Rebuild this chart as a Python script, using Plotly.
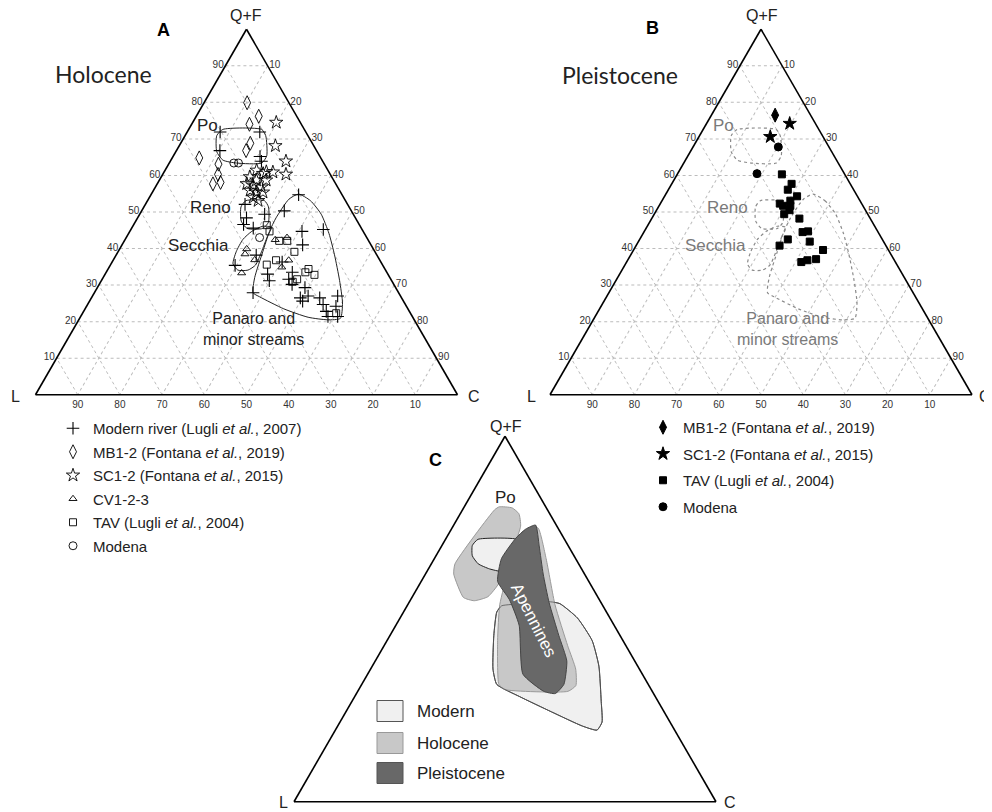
import plotly.graph_objects as go

# The page body adds an 8 px margin, so the figure is sized to fit and all
# reference pixel positions are shifted by that margin.
OFF = 8
W, H = 984, 804
FONT = "Liberation Sans, Arial, sans-serif"

# ---------------- Panel A: Holocene (values in %, Q+F and C; L = 100 - Q+F - C)
modern_qf = [71.9, 71.9, 66.8, 65.2, 63.9, 52.1, 49.4, 48.4, 46.6, 45.6, 54.7, 50.3, 45.2, 44.7, 41.0,
             35.4, 38.2, 36.3, 33.5, 31.2, 33.0, 29.3, 30.2, 26.5, 25.6, 27.0, 26.5, 24.7, 22.8, 21.4,
             27.0, 24.2, 21.4, 27.9, 31.6]
modern_c = [7.8, 17.2, 10.3, 20.6, 21.6, 23.6, 29.6, 25.8, 26.0, 28.8, 35.0, 33.8, 45.6, 40.8, 42.8,
            29.6, 33.2, 40.3, 44.1, 39.8, 38.5, 49.2, 45.7, 49.5, 50.5, 51.1, 54.1, 55.8, 57.5, 58.6,
            58.1, 59.1, 60.9, 37.6, 44.2]
mb_qf = [79.9, 76.2, 74.0, 68.8, 66.8, 64.8, 63.1, 60.3, 57.7, 58.1]
mb_c = [10.2, 14.8, 13.7, 16.5, 16.5, 6.4, 11.8, 13.1, 13.2, 14.8]
sc_qf = [74.5, 68.1, 63.9, 60.3, 60.9, 61.4, 60.5, 59.6, 58.7, 58.7, 57.7, 57.3, 56.8, 55.9, 55.4,
         55.4, 54.0, 53.1, 61.0]
sc_c = [19.8, 22.8, 27.4, 29.2, 25.8, 21.7, 23.7, 21.0, 23.0, 25.3, 21.2, 22.9, 25.1, 22.9, 24.7,
        26.2, 24.6, 26.2, 24.2]
cv_qf = [33.3, 38.5, 36.9, 34.9, 42.4, 36.8, 39.9, 43.0]
cv_c = [32.2, 30.4, 33.5, 40.9, 35.6, 41.6, 30.1, 38.1]
tav_qf = [46.4, 42.1, 42.1, 39.1, 35.6, 36.8, 33.5, 32.8, 31.6, 30.9, 22.3, 34.4, 44.7]
tav_c = [31.6, 36.7, 38.6, 41.8, 37.0, 38.6, 47.2, 49.7, 46.2, 45.5, 60.1, 47.5, 33.1]
mod_qf = [63.4, 63.4, 43.0]
mod_c = [15.3, 16.4, 31.6]

# ---------------- Panel B: Pleistocene
b_mb_qf = [76.5]
b_mb_c = [15.1]
b_sc_qf = [74.2, 70.6]
b_sc_c = [19.7, 16.9]
b_mod_qf = [67.8, 60.5]
b_mod_c = [20.2, 18.8]
b_tav_qf = [60.3, 57.7, 56.1, 54.3, 53.1, 52.3, 51.7, 51.7, 50.5, 49.4, 48.2, 44.5, 44.7, 42.5, 41.9,
            40.8, 39.6, 37.1, 36.8, 36.3]
b_tav_c = [24.8, 28.4, 28.3, 31.4, 30.4, 28.3, 29.4, 31.1, 31.5, 30.8, 35.0, 37.6, 38.8, 35.1, 40.6,
           34.0, 44.9, 44.5, 42.6, 41.4]

# ---------------- Provenance envelopes (A solid, B dotted)
env_po_qf = [72.6, 72.6, 70.9, 65.4, 63.4, 63.4, 64.2, 66.5, 70.9, 72.6]
env_po_c = [8.1, 17.3, 19.1, 22.1, 21.9, 15.9, 12.3, 9.7, 7.5, 8.1]
env_reno_qf = [53.1, 53.1, 51.4, 47.2, 45.5, 45.5, 47.5, 51.4, 53.1]
env_reno_c = [23.3, 27.7, 29.5, 31.6, 31.1, 27.4, 25.0, 23.0, 23.3]
env_sec_qf = [45.8, 43.3, 39.1, 35.5, 34.1, 34.1, 35.8, 39.1, 42.5, 44.7, 46.1, 45.8]
env_sec_c = [33.0, 33.3, 34.0, 34.4, 33.3, 30.9, 28.9, 28.0, 27.9, 28.9, 30.8, 33.0]
env_pan_qf = [54.9, 53.1, 49.4, 44.1, 38.3, 31.3, 25.1, 20.9, 20.5, 21.2, 23.5, 26.8, 27.9, 32.1,
              39.1, 44.7, 48.4, 53.5, 54.9]
env_pan_c = [34.9, 38.6, 43.0, 47.5, 51.7, 56.4, 60.2, 61.8, 59.0, 54.0, 47.1, 39.7, 37.6, 35.9,
             34.3, 33.1, 32.8, 33.3, 34.9]

# ---------------- Panel C: summary fields
c_modap_qf = [53.6, 54.2, 54.7, 54.2, 50.3, 44.1, 37.1, 27.4, 21.8, 19.6, 20.7, 24.6, 28.8, 32.1,
              36.3, 45.5, 51.9, 53.6]
c_modap_c = [22.4, 27.4, 33.4, 35.9, 42.0, 48.6, 53.7, 59.1, 62.1, 62.0, 58.0, 48.7, 39.0, 32.0,
             29.0, 24.6, 22.1, 22.4]
c_holopo_qf = [80.7, 80.4, 78.8, 75.4, 60.0, 56.1, 55.0, 55.9, 62.3, 65.1, 79.9, 80.7]
c_holopo_c = [8.3, 11.5, 13.9, 16.0, 18.7, 17.9, 15.2, 12.2, 6.7, 5.6, 7.6, 8.3]
c_holoap_qf = [74.9, 74.9, 66.5, 53.9, 42.7, 36.3, 31.8, 30.2, 30.7, 32.1, 44.1, 53.9, 63.7, 72.1, 74.9]
c_holoap_c = [18.8, 20.4, 26.5, 34.9, 43.5, 48.6, 50.9, 49.8, 34.6, 32.5, 26.2, 21.8, 19.1, 18.4, 18.8]
c_modpo_qf = [71.8, 71.8, 69.8, 64.8, 62.8, 63.7, 65.1, 67.3, 70.1, 71.8]
c_modpo_c = [7.7, 16.9, 18.8, 20.4, 19.1, 14.5, 11.1, 8.6, 7.2, 7.7]
c_pleist_qf = [74.6, 75.7, 70.0, 62.3, 54.5, 45.5, 38.5, 32.1, 29.6, 30.2, 34.9, 48.3, 55.3, 60.3,
               66.5, 72.1, 74.6]
c_pleist_c = [17.6, 19.4, 23.1, 27.9, 33.2, 40.0, 45.4, 47.9, 47.1, 44.1, 36.8, 29.2, 23.4, 18.1,
              15.9, 16.5, 17.6]

tick_vals = [10, 20, 30, 40, 50, 60, 70, 80, 90]


def X(px):
    return (px - OFF) / W


def Y(py):
    return 1 - (py - OFF) / H


def L(qf, c):
    return [100 - a - b for a, b in zip(qf, c)]


fig = go.Figure()


def pts(qf, c, sub, name, symbol, size, legend="legend", lw=1.0):
    mk = dict(symbol=symbol, size=size, color="black",
              line=dict(color="black", width=lw))
    fig.add_trace(go.Scatterternary(a=qf, b=L(qf, c), c=c, mode="markers", name=name,
                                    subplot=sub, marker=mk, legend=legend,
                                    legendgroup=sub + name, cliponaxis=False))


def env(qf, c, sub, color, dash, width=1.0):
    fig.add_trace(go.Scatterternary(a=qf, b=L(qf, c), c=c, mode="lines", subplot=sub,
                                    line=dict(color=color, width=width, dash=dash, shape="spline",
                                              smoothing=0.6),
                                    showlegend=False, hoverinfo="skip"))


for q, cc in [(env_po_qf, env_po_c), (env_reno_qf, env_reno_c), (env_sec_qf, env_sec_c),
              (env_pan_qf, env_pan_c)]:
    env(q, cc, "ternary", "#222222", "solid", 1.0)
    env(q, cc, "ternary2", "#8a8a8a", "dot", 1.2)

pts(modern_qf, modern_c, "ternary", "Modern river (Lugli <i>et al.</i>, 2007)", "cross-thin-open", 9, lw=1.1)
pts(mb_qf, mb_c, "ternary", "MB1-2 (Fontana <i>et al.</i>, 2019)", "diamond-tall-open", 10, lw=0.9)
pts(sc_qf, sc_c, "ternary", "SC1-2 (Fontana <i>et al.</i>, 2015)", "star-open", 10, lw=0.9)
pts(cv_qf, cv_c, "ternary", "CV1-2-3", "triangle-up-open", 7, lw=0.9)
pts(tav_qf, tav_c, "ternary", "TAV (Lugli <i>et al.</i>, 2004)", "square-open", 7, lw=0.9)
pts(mod_qf, mod_c, "ternary", "Modena", "circle-open", 8, lw=0.9)

pts(b_mb_qf, b_mb_c, "ternary2", "MB1-2 (Fontana <i>et al.</i>, 2019)", "diamond-tall", 10, legend="legend2")
pts(b_sc_qf, b_sc_c, "ternary2", "SC1-2 (Fontana <i>et al.</i>, 2015)", "star", 10, legend="legend2")
pts(b_tav_qf, b_tav_c, "ternary2", "TAV (Lugli <i>et al.</i>, 2004)", "square", 7, legend="legend2")
pts(b_mod_qf, b_mod_c, "ternary2", "Modena", "circle", 8, legend="legend2")


def field(qf, c, fill, line, lw=1.0, fillmode="toself"):
    fig.add_trace(go.Scatterternary(a=qf, b=L(qf, c), c=c, mode="lines", subplot="ternary3",
                                    fill=fillmode, fillcolor=fill,
                                    line=dict(color=line, width=lw, shape="spline", smoothing=0.5),
                                    showlegend=False, hoverinfo="skip"))


MODERN, HOLO, PLEIST = "#f0f0f0", "#c8c8c8", "#686868"
field(c_modap_qf, c_modap_c, MODERN, "#333333", 1.0)
field(c_holopo_qf, c_holopo_c, HOLO, "#999999", 1.0)
field(c_holoap_qf, c_holoap_c, HOLO, "#999999", 1.0)
field(c_modap_qf, c_modap_c, "rgba(0,0,0,0)", "#555555", 0.8, fillmode="none")
field(c_modpo_qf, c_modpo_c, MODERN, "#222222", 1.0)
field(c_pleist_qf, c_pleist_c, PLEIST, "#444444", 1.0)


def axis(show_ticks):
    return dict(min=0, linecolor="black", linewidth=1.6, title=dict(text=""),
                showgrid=show_ticks, gridcolor="#bcbcbc", gridwidth=1, griddash="dot",
                showticklabels=show_ticks, tickvals=tick_vals, ticks="",
                tickfont=dict(family=FONT, size=10, color="#333333"))


def dom(cx, cy, side):
    h = side * 3 ** 0.5 / 2 + 1
    return dict(x=[X(cx - side / 2), X(cx + side / 2)],
                y=[Y(cy + h / 2), Y(cy - h / 2)])


S = 422
for key, cx, cy, show in [("ternary", 246.5, 212, True), ("ternary2", 761, 212, True),
                          ("ternary3", 505, 619, False)]:
    fig.update_layout({key: dict(domain=dom(cx, cy, S), sum=100, bgcolor="white",
                                 aaxis=axis(show), baxis=axis(show), caxis=axis(show))})

annotations = []


def ann(text, px, py, size=17, color="#222222", family=FONT, angle=0, xanchor="center"):
    annotations.append(dict(text=text, x=X(px), y=Y(py), xref="paper", yref="paper",
                            showarrow=False, xanchor=xanchor, yanchor="middle", textangle=angle,
                            font=dict(size=size, color=color, family=family)))


# Panel A text
ann("<b>A</b>", 163, 30, 18, "black")
ann("Holocene", 103, 74, 23, "#222222", "Lato, Open Sans, sans-serif")
ann("Q+F", 246, 16, 16)
ann("L", 15, 396, 16)
ann("C", 474, 396, 16)
ann("Po", 207, 125, 17)
ann("Reno", 210, 208, 17)
ann("Secchia", 198, 245, 17)
ann("Panaro and<br>minor streams", 253, 329, 16)
# Panel B text
ann("<b>B</b>", 652, 28, 18, "black")
ann("Pleistocene", 620, 75, 23, "#222222", "Lato, Open Sans, sans-serif")
ann("Q+F", 762, 16, 16)
ann("L", 531, 396, 16)
ann("C", 985, 396, 16)
G = "#7a7a7a"
ann("Po", 723, 125, 17, G)
ann("Reno", 727, 208, 17, G)
ann("Secchia", 715, 245, 17, G)
ann("Panaro and<br>minor streams", 787, 329, 16, G)
# Panel C text
ann("<b>C</b>", 435, 460, 18, "black")
ann("Q+F", 506, 426, 16)
ann("L", 283, 802, 16)
ann("C", 730, 802, 16)
ann("Po", 505, 497, 17)
ann("Apennines", 534, 620, 17, "white", angle=63)

# Panel C legend (swatches)
c_leg_names = ["Modern", "Holocene", "Pleistocene"]
c_leg_fill = [MODERN, HOLO, PLEIST]
c_leg_line = ["#555555", "#999999", "#555555"]
c_leg_y = [711, 743, 773]
shapes = []
for nm, fc, lc, yy in zip(c_leg_names, c_leg_fill, c_leg_line, c_leg_y):
    shapes.append(dict(type="rect", xref="paper", yref="paper", x0=X(377), x1=X(403),
                       y0=Y(yy + 10.5), y1=Y(yy - 10.5),
                       fillcolor=fc, line=dict(color=lc, width=1)))
    ann(nm, 415, yy, 17, "#222222", xanchor="left")

fig.update_layout(
    width=W, height=H, margin=dict(l=0, r=0, t=0, b=0),
    paper_bgcolor="white", plot_bgcolor="white",
    annotations=annotations, shapes=shapes,
    legend=dict(x=X(53), y=Y(412), xanchor="left", yanchor="top",
                font=dict(family=FONT, size=15, color="#222222"), bgcolor="rgba(0,0,0,0)",
                traceorder="grouped", tracegroupgap=1, itemsizing="trace"),
    legend2=dict(x=X(643), y=Y(411), xanchor="left", yanchor="top",
                 font=dict(family=FONT, size=15, color="#222222"), bgcolor="rgba(0,0,0,0)",
                 traceorder="grouped", tracegroupgap=4, itemsizing="trace"),
)

fig.write_html("out.html")
